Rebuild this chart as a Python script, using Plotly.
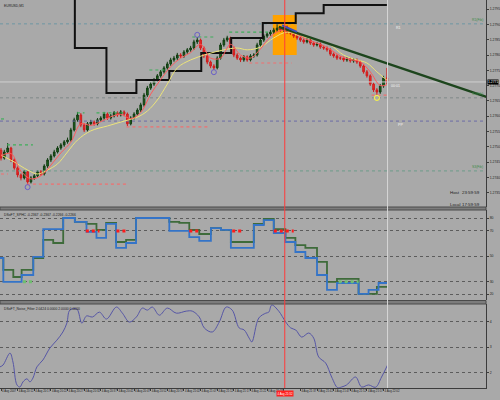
import plotly.graph_objects as go

BG = "#a9a9a9"
FONT = "Liberation Sans, Arial, sans-serif"

# ---- EURUSD M1 candles ----
bars = list(range(117))
first_open = 1.27489
close = [
    1.27463, 1.27483, 1.27496, 1.27457, 1.27431, 1.27408, 1.27398, 1.27418, 1.27385, 1.27398,
    1.27405, 1.27418, 1.27411, 1.27437, 1.27457, 1.27470, 1.27483, 1.27496, 1.27506, 1.27516,
    1.27522, 1.27555, 1.27588, 1.27604, 1.27571, 1.27555, 1.27575, 1.27581, 1.27575, 1.27588,
    1.27594, 1.27607, 1.27594, 1.27601, 1.27611, 1.27604, 1.27614, 1.27607, 1.27575, 1.27594,
    1.27607, 1.27620, 1.27637, 1.27669, 1.27692, 1.27705, 1.27718, 1.27732, 1.27745, 1.27758,
    1.27771, 1.27784, 1.27790, 1.27800, 1.27797, 1.27810, 1.27817, 1.27823, 1.27843, 1.27849,
    1.27823, 1.27797, 1.27777, 1.27764, 1.27758, 1.27790, 1.27833, 1.27849, 1.27856, 1.27823,
    1.27800, 1.27790, 1.27784, 1.27794, 1.27784, 1.27797, 1.27800, 1.27833, 1.27849, 1.27862,
    1.27869, 1.27875, 1.27882, 1.27888, 1.27882, 1.27892, 1.27875, 1.27872, 1.27862, 1.27856,
    1.27849, 1.27843, 1.27849, 1.27839, 1.27833, 1.27836, 1.27826, 1.27823, 1.27817, 1.27803,
    1.27797, 1.27790, 1.27790, 1.27784, 1.27787, 1.27781, 1.27784, 1.27777, 1.27764, 1.27745,
    1.27732, 1.27705, 1.27686, 1.27679, 1.27699, 1.27725, 1.27712]
high = [
    1.27496, 1.27490, 1.27512, 1.27500, 1.27462, 1.27436, 1.27413, 1.27424, 1.27421, 1.27404,
    1.27411, 1.27423, 1.27424, 1.27443, 1.27463, 1.27476, 1.27490, 1.27502, 1.27512, 1.27522,
    1.27530, 1.27562, 1.27595, 1.27614, 1.27610, 1.27577, 1.27581, 1.27588, 1.27586, 1.27594,
    1.27600, 1.27614, 1.27612, 1.27607, 1.27617, 1.27616, 1.27620, 1.27619, 1.27612, 1.27600,
    1.27613, 1.27626, 1.27644, 1.27676, 1.27699, 1.27712, 1.27725, 1.27738, 1.27751, 1.27764,
    1.27778, 1.27791, 1.27797, 1.27807, 1.27806, 1.27816, 1.27823, 1.27830, 1.27850, 1.27859,
    1.27854, 1.27828, 1.27802, 1.27782, 1.27770, 1.27796, 1.27840, 1.27856, 1.27863, 1.27860,
    1.27828, 1.27806, 1.27795, 1.27800, 1.27799, 1.27803, 1.27806, 1.27840, 1.27855, 1.27868,
    1.27875, 1.27882, 1.27889, 1.27902, 1.27894, 1.27898, 1.27897, 1.27881, 1.27877, 1.27867,
    1.27861, 1.27854, 1.27855, 1.27854, 1.27844, 1.27842, 1.27841, 1.27831, 1.27828, 1.27822,
    1.27808, 1.27802, 1.27796, 1.27795, 1.27793, 1.27792, 1.27790, 1.27789, 1.27782, 1.27770,
    1.27751, 1.27737, 1.27710, 1.27692, 1.27705, 1.27732, 1.27758]
low = [
    1.27455, 1.27458, 1.27478, 1.27450, 1.27425, 1.27400, 1.27390, 1.27393, 1.27375, 1.27380,
    1.27392, 1.27400, 1.27405, 1.27406, 1.27431, 1.27450, 1.27465, 1.27478, 1.27490, 1.27500,
    1.27510, 1.27517, 1.27550, 1.27582, 1.27564, 1.27548, 1.27550, 1.27570, 1.27569, 1.27570,
    1.27582, 1.27588, 1.27588, 1.27589, 1.27596, 1.27598, 1.27599, 1.27600, 1.27568, 1.27570,
    1.27589, 1.27601, 1.27614, 1.27631, 1.27663, 1.27686, 1.27699, 1.27712, 1.27726, 1.27739,
    1.27752, 1.27765, 1.27778, 1.27784, 1.27790, 1.27791, 1.27804, 1.27811, 1.27817, 1.27836,
    1.27816, 1.27790, 1.27770, 1.27757, 1.27751, 1.27753, 1.27785, 1.27827, 1.27843, 1.27817,
    1.27793, 1.27784, 1.27777, 1.27778, 1.27778, 1.27779, 1.27791, 1.27795, 1.27827, 1.27843,
    1.27856, 1.27863, 1.27869, 1.27876, 1.27876, 1.27876, 1.27869, 1.27866, 1.27856, 1.27850,
    1.27843, 1.27837, 1.27838, 1.27833, 1.27827, 1.27828, 1.27820, 1.27817, 1.27811, 1.27797,
    1.27791, 1.27784, 1.27784, 1.27778, 1.27778, 1.27775, 1.27775, 1.27771, 1.27758, 1.27739,
    1.27726, 1.27699, 1.27679, 1.27666, 1.27673, 1.27693, 1.27705]
opens = [first_open] + close[:-1]

# moving averages (vertices)
slow_ma_bar = [0, 4, 8, 11, 14, 17, 20, 23, 27, 32, 37, 41, 44, 47, 50, 53, 57, 62, 67, 71,
               74, 78, 82, 86, 90, 95, 99, 103, 107, 110, 113, 116]
slow_ma = [1.27473, 1.27450, 1.27424, 1.27411, 1.27424, 1.27444, 1.27483, 1.27522, 1.27552, 1.27568,
           1.27584, 1.27597, 1.27617, 1.27653, 1.27705, 1.27758, 1.27784, 1.27803, 1.27817, 1.27823,
           1.27817, 1.27826, 1.27856, 1.27875, 1.27862, 1.27849, 1.27833, 1.27800, 1.27784, 1.27774,
           1.27745, 1.27718]
fast_ma_bar = [0, 3, 6, 9, 12, 15, 18, 21, 24, 27, 30, 33, 36, 39, 42, 45, 48, 51, 54, 57,
               60, 63, 66, 69, 72, 75, 78, 81, 84, 87, 90, 93, 96, 99, 102, 105, 108, 111, 114, 116]
fast_ma = [1.27470, 1.27478, 1.27420, 1.27395, 1.27405, 1.27440, 1.27480, 1.27515, 1.27575, 1.27570,
           1.27582, 1.27598, 1.27606, 1.27592, 1.27612, 1.27672, 1.27720, 1.27762, 1.27790, 1.27808,
           1.27835, 1.27790, 1.27790, 1.27835, 1.27800, 1.27790, 1.27820, 1.27860, 1.27880, 1.27880,
           1.27862, 1.27846, 1.27835, 1.27818, 1.27797, 1.27785, 1.27778, 1.27745, 1.27700, 1.27703]

# black step level
step_bar = [22.2, 22.2, 31.7, 40.7, 50.6, 60.2, 69.2, 78.7, 88.6, 97.0, 116.0]
step_val = [1.28150, 1.27823, 1.27676, 1.27718, 1.27748, 1.27807, 1.27856, 1.27905, 1.27937, 1.27964, 1.27964]

# fractal resistance (green) / support (red) segments
res_start = [0, 1.8, 22.8, 28.7, 44.6, 57.5, 68.6]
res_end = [1.2, 9.6, 25.1, 37.7, 49.7, 64.0, 81.4]
res_price = [1.27591, 1.27506, 1.27611, 1.27611, 1.27751, 1.27859, 1.27875]
sup_start = [0, 7.8, 37.7, 74.6, 111.4]
sup_end = [2.1, 37.7, 62.6, 87.4, 116.5]
sup_price = [1.27411, 1.27378, 1.27565, 1.27774, 1.27669]

fractal_bar = [8, 59, 64]
fractal_price = [1.27368, 1.27866, 1.27744]
last_fractal_bar = [113]
last_fractal_price = [1.27660]

# pivot levels
level_price = [1.27902, 1.27660, 1.27584, 1.27421]
level_color = ["#6f98a4", "#7f8888", "#6c6ca6", "#6c9c8a"]
level_tag = ["R1(Fib)", "S1(Fib)", "", "S3(Fib)"]

# trend line + marked zone
trend_bar = [83.5, 146.0]
trend_price = [1.27892, 1.27663]
trend_blue_bar = [84.5, 89.0]
trend_blue_price = [1.27897, 1.27876]
zone_bar = [81.7, 88.9]
zone_price = [1.27800, 1.27931]

price_ticks = [1.2730, 1.2735, 1.2740, 1.2745, 1.2750, 1.2755, 1.2760,
               1.2765, 1.2770, 1.2775, 1.2780, 1.2785, 1.2790, 1.2795]

# ---- DSoFT_SPHC panel (step lines) ----
sphc_green_bar = [-0.3, 0.7, 3.7, 6.2, 9.7, 12.7, 15.7, 18.7, 22.2, 25.7, 28.7, 31.6, 34.6, 37.6,
                  40.6, 50.6, 53.6, 56.6, 59.6, 63.1, 66.1, 69.1, 76.0, 79.0, 82.0, 85.5, 88.5,
                  91.5, 95.0, 98.0, 101.0, 107.5, 113.0, 116.2]
sphc_green = [48.5, 39.1, 33.5, 39.1, 48.5, 62.7, 60.3, 80.0, 76.9, 75.3, 70.6, 76.1, 61.1, 62.7,
              80.0, 76.9, 76.1, 70.6, 67.4, 72.1, 70.6, 61.1, 75.3, 79.2, 71.3, 64.3, 58.7,
              56.4, 45.4, 29.6, 32.0, 20.2, 25.7, 25.7]
sphc_blue_bar = [-0.3, 0.7, 6.2, 9.7, 12.7, 18.7, 22.2, 25.7, 28.7, 31.6, 34.6, 37.6, 40.6, 50.6,
                 56.6, 59.6, 63.1, 66.1, 69.1, 76.0, 79.0, 82.0, 85.5, 88.5, 91.5, 95.0, 98.0,
                 101.0, 107.5, 110.5, 113.5, 116.2]
sphc_blue = [48.5, 29.6, 35.1, 49.3, 71.3, 80.0, 76.9, 69.0, 64.3, 75.3, 56.4, 60.3, 80.0, 69.8,
             65.0, 61.9, 72.1, 70.6, 56.4, 74.5, 78.4, 68.2, 61.1, 53.2, 48.5, 35.1, 23.3,
             28.8, 20.2, 23.3, 28.8, 28.8]
sphc_red_start = [25.5, 34.7, 56.6, 69.5, 82.0]
sphc_red_end = [29.6, 37.7, 59.6, 72.5, 88.0]
sphc_red_level = 69.8
sphc_grn_start = [6.6, 101.5]
sphc_grn_end = [9.6, 107.5]
sphc_grn_level = 29.8
sphc_levels = [80, 70, 50, 30, 20]

# ---- DSoFT_Noise_Filter panel ----
nf_bar = [-0.3, 0.6, 2.7, 3.6, 4.8, 5.7, 6.6, 7.8, 8.7, 9.6, 10.8, 12.6, 14.7, 16.8, 18.6, 19.8,
          20.7, 22.8, 24.3, 25.7, 27.5, 29.6, 31.7, 34.7, 36.5, 38.6, 40.7, 42.5, 44.0, 45.5,
          47.6, 50.0, 52.7, 55.7, 57.5, 59.6, 61.1, 63.5, 65.6, 67.7, 69.5, 71.6, 73.1, 74.6,
          75.4, 77.5, 79.6, 80.5, 81.4, 83.5, 85.6, 87.1, 88.6, 90.4, 92.5, 94.0, 95.5, 97.6,
          99.4, 101.2, 102.4, 103.9, 106.6, 108.4, 110.5, 112.6, 114.4, 116.2]
nf_val = [2.22, 2.29, 2.76, 2.41, 1.51, 1.43, 1.63, 1.75, 1.63, 1.78, 2.22, 2.49, 2.96, 3.27, 3.59, 3.94,
          4.45, 4.49, 3.94, 4.22, 4.18, 4.37, 4.10, 4.57, 4.33, 3.98, 4.18, 4.53, 4.45, 4.57,
          4.25, 4.53, 4.33, 4.41, 4.41, 4.18, 3.75, 3.59, 3.98, 4.57, 4.45, 3.75, 3.67, 3.35,
          3.20, 4.14, 4.33, 4.37, 4.65, 4.41, 3.98, 3.75, 3.67, 3.39, 3.55, 3.35, 2.61, 2.37,
          1.82, 1.40, 1.43, 1.51, 1.82, 1.43, 1.51, 1.42, 1.82, 2.29]
nf_levels = [4, 3, 2]

# ---- time axis ----
tick_bars = [0, 5, 10, 15, 20, 25, 30, 35, 40, 45, 50, 55, 60, 65, 70, 75, 80, 85, 90, 95,
             100, 105, 110, 115]
tick_text = ["4 Aug 2007", "4 Aug 20:12", "4 Aug 20:17", "4 Aug 20:22", "4 Aug 20:27",
             "4 Aug 20:32", "4 Aug 20:37", "4 Aug 20:42", "4 Aug 20:47", "4 Aug 20:52",
             "4 Aug 20:57", "4 Aug 21:02", "4 Aug 21:07", "4 Aug 21:12", "4 Aug 21:17",
             "4 Aug 21:22", "4 Aug 21:27", "4 Aug 21:32", "4 Aug 21:37", "4 Aug 21:42",
             "4 Aug 21:47", "4 Aug 21:52", "4 Aug 21:57", "4 Aug 22:02"]
cursor_bar = 85.3
cursor_text = "4 Aug 21:32"

X_END = 146.0

# the cursor tag covers the tick label it sits on
shown_tick_text = [("" if t == cursor_text else t) for t in tick_text]


def segments(starts, ends, levels):
    xs, ys = [], []
    for s, e, v in zip(starts, ends, levels):
        xs += [s, e, None]
        ys += [v, v, None]
    return xs, ys


fig = go.Figure()

# pivot lines
for p, c in zip(level_price, level_color):
    fig.add_trace(go.Scatter(x=[-0.3, X_END], y=[p, p], mode="lines",
                             line=dict(color=c, width=1, dash="dot"), yaxis="y"))
fig.add_trace(go.Scatter(x=[-0.3, X_END], y=[close[-1], close[-1]], mode="lines",
                         line=dict(color="#cfcfcf", width=1), yaxis="y"))

# fractal levels
rx, ry = segments(res_start, res_end, res_price)
fig.add_trace(go.Scatter(x=rx, y=ry, mode="lines", line=dict(color="#3fae5a", width=1.2, dash="dot")))
sx, sy = segments(sup_start, sup_end, sup_price)
fig.add_trace(go.Scatter(x=sx, y=sy, mode="lines", line=dict(color="#f07070", width=1.2, dash="dot")))

# step level
fig.add_trace(go.Scatter(x=step_bar, y=step_val, mode="lines", line_shape="hv",
                         line=dict(color="#101010", width=2)))

# MAs
fig.add_trace(go.Scatter(x=slow_ma_bar, y=slow_ma, mode="lines", line_shape="spline",
                         line=dict(color="#ece47a", width=1)))

fig.add_trace(go.Candlestick(
    x=bars, open=opens, high=high, low=low, close=close, whiskerwidth=0,
    increasing=dict(line=dict(color="#123d12", width=1), fillcolor="#1e6a1e"),
    decreasing=dict(line=dict(color="#d01c1c", width=1), fillcolor="#ee2a2a"),
))

fig.add_trace(go.Scatter(x=fast_ma_bar, y=fast_ma, mode="lines", line_shape="spline",
                         line=dict(color="#ff5a5a", width=1)))

# trend line
fig.add_trace(go.Scatter(x=trend_bar, y=trend_price, mode="lines",
                         line=dict(color="#1d451d", width=2.5)))
fig.add_trace(go.Scatter(x=trend_blue_bar, y=trend_blue_price, mode="lines",
                         line=dict(color="#3a4fc0", width=2)))

# fractal circles
fig.add_trace(go.Scatter(x=fractal_bar, y=fractal_price, mode="markers",
                         marker=dict(symbol="circle-open", size=5, color="#6a5fc8", line=dict(width=1))))
fig.add_trace(go.Scatter(x=last_fractal_bar, y=last_fractal_price, mode="markers",
                         marker=dict(symbol="circle-open", size=5, color="#f2ee50", line=dict(width=1.2))))

# SPHC panel
fig.add_trace(go.Scatter(x=sphc_green_bar, y=sphc_green, mode="lines", line_shape="hv",
                         line=dict(color="#3e6b3a", width=1.8), yaxis="y2"))
fig.add_trace(go.Scatter(x=sphc_blue_bar, y=sphc_blue, mode="lines", line_shape="hv",
                         line=dict(color="#3474c8", width=1.8), yaxis="y2"))
gx, gy = segments(sphc_grn_start, sphc_grn_end, [sphc_grn_level] * len(sphc_grn_start))
fig.add_trace(go.Scatter(x=gx, y=gy, mode="lines", line=dict(color="#6fbf6f", width=3, dash="dot"), yaxis="y2"))
qx, qy = segments(sphc_red_start, sphc_red_end, [sphc_red_level] * len(sphc_red_start))
fig.add_trace(go.Scatter(x=qx, y=qy, mode="lines", line=dict(color="#ff1a1a", width=3, dash="dot"), yaxis="y2"))

# Noise filter panel
fig.add_trace(go.Scatter(x=nf_bar, y=nf_val, mode="lines", line_shape="spline",
                         line=dict(color="#5656a6", width=1), yaxis="y3"))

# layout geometry (plot area is 488 x 388 px)
H = 388.0


def py(px):
    return (H - px) / H


small = dict(family=FONT, size=3.4, color="#1c1c1c")
yaxis_common = dict(side="right", anchor="x", showline=True, linecolor="#3c3c3c", linewidth=1,
                    ticks="outside", ticklen=2, tickcolor="#3c3c3c", tickfont=small,
                    zeroline=False, fixedrange=True)

fig.update_layout(
    width=500, height=400, margin=dict(l=0, r=12, t=0, b=12),
    paper_bgcolor=BG, plot_bgcolor=BG, showlegend=False,
    font=dict(family=FONT, size=4, color="#1c1c1c"),
    xaxis=dict(domain=[0, 1], anchor="y3", range=[-0.3, 145.8], tickvals=tick_bars, ticktext=shown_tick_text,
               tickfont=dict(family=FONT, size=2.8, color="#1c1c1c"), tickangle=0,
               ticklabelposition="outside right", ticks="outside", ticklen=2,
               tickcolor="#3c3c3c", showgrid=False, zeroline=False, showline=True,
               linecolor="#3c3c3c", rangeslider=dict(visible=False), fixedrange=True),
    yaxis=dict(domain=[py(207), 1], range=[1.27303, 1.27980], tickvals=price_ticks,
               tickformat=".4f", showgrid=False, **yaxis_common),
    yaxis2=dict(domain=[py(300), py(210)], range=[15.4, 86.3], tickvals=sphc_levels,
                showgrid=True, gridcolor="#5c5c5c", griddash="dot", gridwidth=1, **yaxis_common),
    yaxis3=dict(domain=[0, py(304)], range=[1.39, 4.69], tickvals=nf_levels,
                showgrid=True, gridcolor="#5c5c5c", griddash="dot", gridwidth=1, **yaxis_common),
)

shapes = [
    dict(type="rect", xref="x", yref="y", x0=zone_bar[0], x1=zone_bar[1], y0=zone_price[0], y1=zone_price[1],
         fillcolor="#ffa200", line=dict(width=0), layer="below"),
    dict(type="rect", xref="paper", yref="paper", x0=0, x1=1, y0=py(210), y1=py(207),
         fillcolor="#7c7c7c", line=dict(color="#4a4a4a", width=1)),
    dict(type="rect", xref="paper", yref="paper", x0=0, x1=1, y0=py(304), y1=py(300.5),
         fillcolor="#7c7c7c", line=dict(color="#4a4a4a", width=1)),
    dict(type="line", xref="x", yref="paper", x0=bars[-1] + 0.2, x1=bars[-1] + 0.2, y0=0, y1=1,
         line=dict(color="#d6d6d6", width=1)),
    dict(type="line", xref="x", yref="paper", x0=cursor_bar, x1=cursor_bar, y0=0, y1=1,
         line=dict(color="#ff3b3b", width=1)),
]
fig.update_layout(shapes=shapes)

ann = []
tiny = dict(family=FONT, size=3.4, color="#1c1c1c")
ann.append(dict(xref="paper", yref="paper", x=0.004, y=1, xanchor="left", yanchor="top", yshift=-2,
                text="EURUSD,M1", showarrow=False, font=tiny))
ann.append(dict(xref="paper", yref="paper", x=0.004, y=py(210), xanchor="left", yanchor="top", yshift=-1,
                text="DSoFT_SPHC -0.2367 -0.2367 -0.2266 -0.2266", showarrow=False, font=tiny))
ann.append(dict(xref="paper", yref="paper", x=0.004, y=py(304), xanchor="left", yanchor="top", yshift=-1,
                text="DSoFT_Noise_Filter 2.0424 0.0000 2.0000 0.0000", showarrow=False, font=tiny))
for label, yy in (("Host", 192), ("Local", 204)):
    ann.append(dict(xref="paper", yref="paper", x=450 / 488, y=py(yy), xanchor="left", yanchor="middle",
                    text=label, showarrow=False, font=dict(family=FONT, size=4.4, color="#1c1c1c")))
for label, yy in (("23:59:59", 192), ("17:59:59", 204)):
    ann.append(dict(xref="paper", yref="paper", x=462 / 488, y=py(yy), xanchor="left", yanchor="middle",
                    text=label, showarrow=False, font=dict(family=FONT, size=4.4, color="#1c1c1c")))
# pivot tags
for p, t in zip(level_price, level_tag):
    if t:
        ann.append(dict(xref="paper", yref="y", x=0.998, y=p, xanchor="right", yanchor="bottom",
                        text=t, showarrow=False, font=dict(family=FONT, size=3.4, color="#3c8a4a")))
ann.append(dict(xref="x", yref="y", x=119.5, y=level_price[0], yanchor="top", text="R1",
                showarrow=False, font=dict(family=FONT, size=3.6, color="#f4f4f4")))
ann.append(dict(xref="x", yref="y", x=118.5, y=close[-1], yanchor="top", text="00:01",
                showarrow=False, font=dict(family=FONT, size=3.6, color="#f4f4f4")))
ann.append(dict(xref="x", yref="y", x=120.0, y=level_price[2], yanchor="top", text="PP",
                showarrow=False, font=dict(family=FONT, size=3.6, color="#f4f4f4")))
# current price tag on the axis
ann.append(dict(xref="paper", yref="y", x=1, y=close[-1], xanchor="left", xshift=1,
                text=f"{close[-1]:.4f}", showarrow=False, bgcolor="#000000", borderpad=0,
                font=dict(family=FONT, size=3.4, color="#ffffff")))
# cursor time tag
ann.append(dict(xref="x", yref="paper", x=cursor_bar, y=0, yanchor="top", yshift=-2,
                text=cursor_text, showarrow=False, bgcolor="#ff2020", borderpad=0.5,
                font=dict(family=FONT, size=2.8, color="#ffffff")))
fig.update_layout(annotations=ann)

fig.write_html("out.html", config={"displayModeBar": False},
               post_script="document.body.style.margin='0';")
